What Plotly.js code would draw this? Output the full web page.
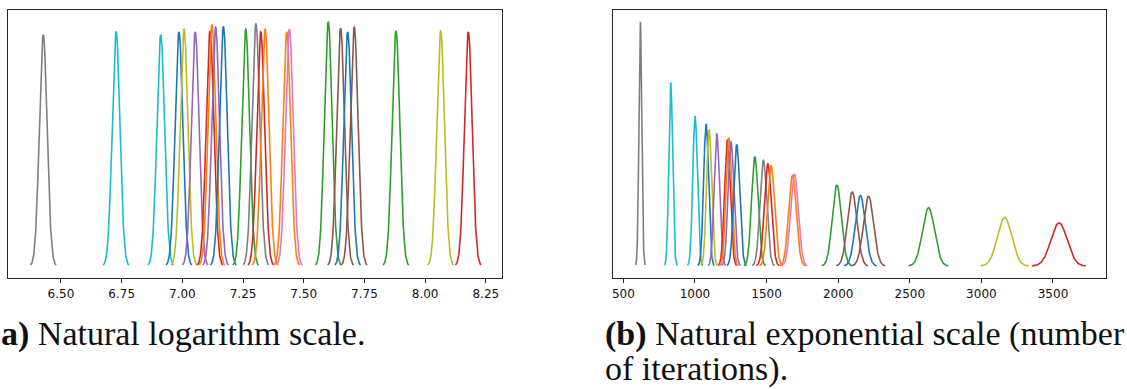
<!DOCTYPE html>
<html>
<head>
<meta charset="utf-8">
<script src="https://cdn.plot.ly/plotly-3.0.1.min.js"></script>
<style>html,body{margin:0;padding:0;background:#fff;}#chart{width:1127px;height:389px;}</style>
</head>
<body>
<div id="chart"></div>
<script>
// Curve colours (matplotlib tab10), in order of position along the axis
const curveColors = ['#7f7f7f','#17becf','#17becf','#1f77b4','#bcbd22','#9467bd','#d62728','#ff7f0e','#9467bd','#1f77b4',
                     '#2ca02c','#7f7f7f','#d62728','#ff7f0e','#ff7f0e','#e377c2','#2ca02c','#8c564b','#1f77b4','#8c564b',
                     '#2ca02c','#bcbd22','#d62728'];
// (a) natural log scale: peak centres and peak heights (density)
const logCenters = [6.427,6.727,6.911,6.986,7.007,7.053,7.114,7.122,7.137,7.169,
                    7.261,7.303,7.323,7.341,7.430,7.441,7.601,7.652,7.681,7.708,
                    7.880,8.064,8.178];
const logPeaks   = [24.9,25.2,24.9,25.2,25.5,25.2,25.3,26.0,25.7,25.8,
                    25.5,26.1,25.2,25.5,25.2,25.5,26.3,25.6,25.2,25.7,
                    25.3,25.3,25.2];
const logWidth = 0.016;   // std-dev of each bump in log units
// (b) exponential scale (number of iterations): centres, peak heights, widths
const iterCenters = [619,831,1001,1078,1099,1153,1227,1237,1252,1292,
                     1418,1478,1509,1532,1681,1695,1991,2098,2155,2212,
                     2631,3162,3542];
const iterPeaks   = [0.0402,0.0302,0.0247,0.0234,0.0225,0.0218,0.0207,0.0210,0.0204,0.0200,
                     0.0180,0.0174,0.0168,0.0165,0.0149,0.0151,0.0133,0.0122,0.0116,0.0115,
                     0.0096,0.0080,0.0071];
const iterWidths  = [9.9,13.3,16.0,17.2,17.6,18.4,19.6,19.8,20.0,20.7,
                     22.7,23.6,24.1,24.5,26.9,27.1,31.9,33.6,34.5,35.4,
                     42.1,50.6,56.7];
const logTicks  = [6.50,6.75,7.00,7.25,7.50,7.75,8.00,8.25];
const iterTicks = [500,1000,1500,2000,2500,3000,3500];

function bump(c, s, h, n) {
  const xs = [], ys = [];
  const lo = c - 3.3 * s, hi = c + 3.3 * s;
  for (let k = 0; k <= n; k++) {
    const x = lo + (hi - lo) * k / n;
    const z = (x - c) / s;
    xs.push(x); ys.push(h * Math.exp(-0.5 * z * z));
  }
  return {xs, ys};
}

const traces = [];
logCenters.forEach((c, i) => {
  const b = bump(c, logWidth, logPeaks[i], 120);
  traces.push({x: b.xs, y: b.ys, type: 'scatter', mode: 'lines', xaxis: 'x', yaxis: 'y',
    line: {color: curveColors[i], width: 1.6}, hoverinfo: 'skip', showlegend: false});
});
iterCenters.forEach((c, i) => {
  const b = bump(c, iterWidths[i], iterPeaks[i], 120);
  traces.push({x: b.xs, y: b.ys, type: 'scatter', mode: 'lines', xaxis: 'x2', yaxis: 'y2',
    line: {color: curveColors[i], width: 1.6}, hoverinfo: 'skip', showlegend: false});
});

const W = 1127, H = 389;
const px = v => v / W, py = v => (H - v) / H;
const maxL = Math.max(...logPeaks), maxR = Math.max(...iterPeaks);
const spine = '#262626';
const tickFont = {family: 'DejaVu Sans', size: 12, color: '#111'};
const xCommon = {showline: true, mirror: true, linecolor: spine, linewidth: 1, ticks: 'outside',
  ticklen: 4, tickwidth: 1, tickcolor: spine, showgrid: false, zeroline: false, tickfont: tickFont,
  fixedrange: true};
const yCommon = {showline: true, mirror: true, linecolor: spine, linewidth: 1, ticks: '',
  showticklabels: false, showgrid: false, zeroline: false, fixedrange: true};
const yDom = [py(278.3), py(9.5)];

const capFont = {family: 'Liberation Serif', size: 34, color: '#111'};
const layout = {
  width: W, height: H,
  margin: {l: 0, r: 0, t: 0, b: 0},
  paper_bgcolor: '#fff', plot_bgcolor: '#fff',
  showlegend: false,
  xaxis: Object.assign({}, xCommon, {domain: [px(8.3), px(502.3)], range: [6.283, 8.318],
    tickvals: logTicks, ticktext: logTicks.map(v => v.toFixed(2)), anchor: 'y'}),
  yaxis: Object.assign({}, yCommon, {domain: yDom, range: [-0.05 * maxL, 1.05 * maxL], anchor: 'x'}),
  xaxis2: Object.assign({}, xCommon, {domain: [px(613.3), px(1105.7)], range: [430, 3868],
    tickvals: iterTicks, ticktext: iterTicks.map(String), anchor: 'y2'}),
  yaxis2: Object.assign({}, yCommon, {domain: yDom, range: [-0.05 * maxR, 1.05 * maxR], anchor: 'x2'}),
  annotations: [
    {text: '<b>a)</b> Natural logarithm scale.', xref: 'paper', yref: 'paper', x: px(0), y: py(334),
     xanchor: 'left', yanchor: 'middle', showarrow: false, font: capFont, borderpad: 0},
    {text: '<b>(b)</b> Natural exponential scale (number', xref: 'paper', yref: 'paper', x: px(604), y: py(334),
     xanchor: 'left', yanchor: 'middle', showarrow: false, font: capFont, borderpad: 0},
    {text: 'of iterations).', xref: 'paper', yref: 'paper', x: px(604), y: py(369),
     xanchor: 'left', yanchor: 'middle', showarrow: false, font: capFont, borderpad: 0}
  ]
};
Plotly.newPlot('chart', traces, layout, {staticPlot: true, displayModeBar: false});
</script>
</body>
</html>
